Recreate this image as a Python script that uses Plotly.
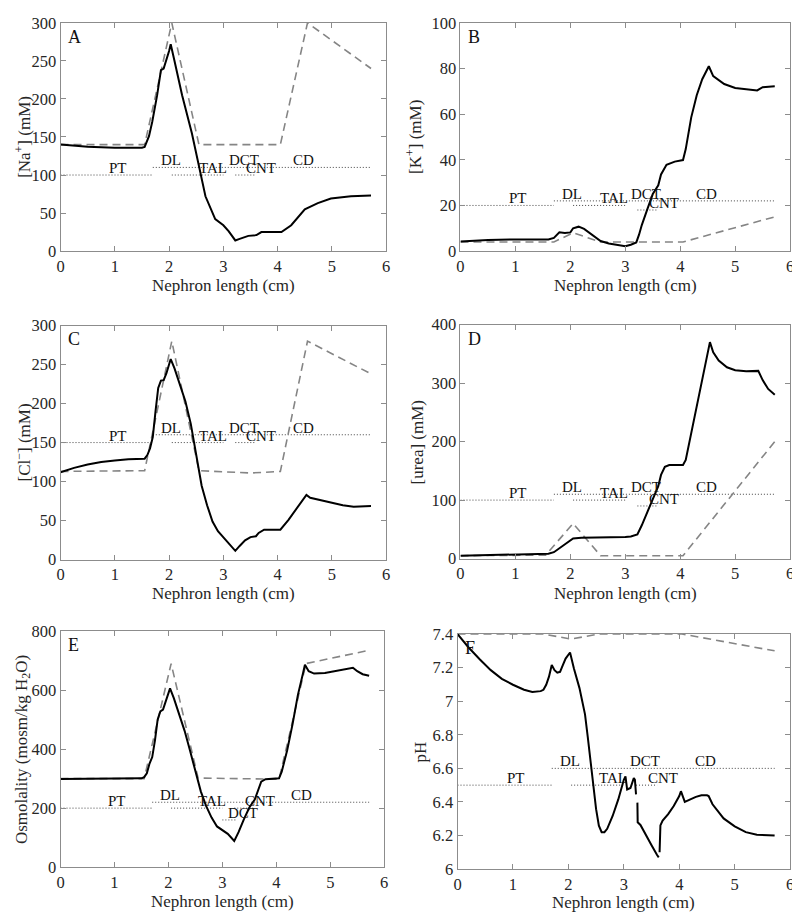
import plotly.graph_objects as go

# ---------------- data ----------------
# Panel A: [Na+]
a_x = [0, 0.5, 1.0, 1.5, 1.55, 1.63, 1.69, 1.78, 1.85, 1.9, 2.0, 2.03, 2.1, 2.24, 2.42, 2.55,
       2.67, 2.85, 3.0, 3.1, 3.22, 3.3, 3.46, 3.61, 3.7, 4.07, 4.25, 4.5, 4.74, 4.98, 5.35, 5.72]
a_y = [140, 137, 136, 136, 137, 151, 170, 205, 238, 240, 263, 272, 250, 205, 155, 113,
       72, 42, 34, 26, 14, 16, 20, 21, 25, 25, 34, 55, 63, 69, 72, 73]
a_dx = [0, 1.55, 2.05, 2.55, 4.05, 4.55, 5.72]
a_dy = [140, 140, 300, 140, 140, 300, 240]

# Panel B: [K+]
b_x = [0, 0.5, 1.0, 1.6, 1.7, 1.8, 1.9, 2.0, 2.05, 2.15, 2.25, 2.4, 2.55, 2.7, 2.9, 3.0, 3.1,
       3.2, 3.25, 3.3, 3.4, 3.5, 3.6, 3.65, 3.75, 3.9, 4.05, 4.1, 4.2, 4.3, 4.4, 4.52, 4.6,
       4.8, 5.0, 5.2, 5.4, 5.5, 5.72]
b_y = [4.2, 4.9, 5.1, 5.1, 5.8, 8.2, 7.9, 8.2, 10.0, 10.7, 9.7, 7.2, 4.4, 3.3, 2.6, 2.1, 2.8,
       3.8, 7.2, 11.4, 18.3, 25.0, 28.8, 33.6, 37.8, 39.2, 39.9, 44.7, 58.6, 68.3, 75.3, 81.0, 76.7,
       73.2, 71.5, 70.8, 70.4, 71.8, 72.2]
b_dx = [0, 1.7, 2.05, 2.55, 4.05, 5.72]
b_dy = [4, 4, 8, 4, 4, 15]

# Panel C: [Cl-]
c_x = [0, 0.25, 0.5, 0.75, 1.0, 1.25, 1.55, 1.6, 1.65, 1.7, 1.75, 1.8, 1.85, 1.9, 1.95, 2.03,
       2.1, 2.2, 2.3, 2.4, 2.5, 2.6, 2.7, 2.8, 2.9, 3.0, 3.1, 3.22, 3.3, 3.4, 3.5, 3.6, 3.65,
       3.75, 3.9, 4.05, 4.2, 4.35, 4.53, 4.6, 4.8, 5.0, 5.2, 5.4, 5.72]
c_y = [112, 117.6, 121.8, 125, 127, 128.5, 129.3, 134, 142.7, 157, 190, 220, 229.5, 230, 238.6, 257,
       245, 224, 203, 174, 132, 94.7, 69.7, 48.8, 36.3, 28.8, 21.7, 11.3, 17.5, 24.6, 28.8, 30, 34.2,
       38.4, 38.4, 38.4, 51, 65.5, 83, 79.3, 76, 72.2, 69.7, 67.6, 68.8]
c_dx = [0, 1.55, 2.05, 2.55, 3.5, 4.05, 4.55, 5.72]
c_dy = [113, 114, 280, 114, 111, 113, 280, 238]

# Panel D: [urea]
d_x = [0, 1.0, 1.6, 1.7, 1.8, 1.9, 2.0, 2.05, 2.2, 2.5, 2.8, 3.0, 3.1, 3.22, 3.3, 3.4, 3.5,
       3.6, 3.65, 3.72, 3.8, 4.05, 4.1, 4.2, 4.3, 4.4, 4.5, 4.54, 4.6, 4.7, 4.85, 5.0, 5.2,
       5.42, 5.5, 5.6, 5.72]
d_y = [5, 6.7, 8.4, 11, 17.9, 24.5, 31.8, 34.6, 35.7, 35.7, 35.7, 36.8, 38, 41.3, 57, 79, 101.5,
       123.9, 143, 157, 160, 160, 168.5, 213, 258, 302, 347, 370, 352.6, 338.6, 327, 322, 320,
       320.8, 305, 290, 280]
d_dx = [0, 1.55, 2.05, 2.55, 4.05, 5.72]
d_dy = [5, 6, 60, 5, 5, 200]

# Panel E: osmolality
e_x = [0, 1.5, 1.55, 1.6, 1.65, 1.7, 1.75, 1.8, 1.85, 1.9, 1.95, 2.03, 2.1, 2.2, 2.3, 2.4, 2.5,
       2.6, 2.7, 2.8, 2.9, 3.0, 3.1, 3.22, 3.3, 3.4, 3.5, 3.6, 3.65, 3.72, 3.8, 4.05, 4.1, 4.2,
       4.3, 4.4, 4.5, 4.53, 4.6, 4.7, 4.9, 5.1, 5.3, 5.42, 5.5, 5.6, 5.72]
e_y = [299, 301, 305, 318, 351, 373, 429, 500, 528, 534, 562, 606, 573, 517, 462, 395, 329,
       257, 207, 168, 138, 124, 113, 89, 118.6, 163, 202, 229, 257, 290, 298, 301, 323.5, 395.6,
       484, 584, 661.5, 686, 664, 656, 658, 665, 671, 676, 664, 654, 649]
e_dx = [0, 1.55, 2.05, 2.55, 4.05, 4.55, 5.72]
e_dy = [300, 300, 690, 302, 298, 690, 735]

# Panel F: pH (None = break in the curve)
f_x = [0, 0.2, 0.4, 0.6, 0.8, 1.0, 1.2, 1.35, 1.5, 1.55, 1.6, 1.65, 1.7, 1.75, 1.8, 1.85, 1.9,
       1.95, 2.03, 2.1, 2.2, 2.3, 2.35, 2.4, 2.45, 2.5, 2.55, 2.6, 2.65, 2.7, 2.8, 2.9, 3.0,
       3.03, 3.06, 3.12, 3.18, 3.2, 3.22, None,
       3.245, 3.25, 3.3, 3.4, 3.5, 3.6, 3.63, None,
       3.645, 3.66, 3.7, 3.8, 3.9, 4.0, 4.03, 4.1, 4.2, 4.3, 4.4, 4.5, 4.53, 4.6, 4.8, 5.0,
       5.2, 5.4, 5.72]
f_y = [7.40, 7.32, 7.25, 7.185, 7.133, 7.098, 7.068, 7.055, 7.06, 7.068, 7.098, 7.146, 7.215,
       7.185, 7.17, 7.175, 7.215, 7.254, 7.29, 7.195, 7.078, 6.922, 6.786, 6.63, 6.474, 6.357,
       6.259, 6.22, 6.22, 6.24, 6.318, 6.415, 6.532, 6.552, 6.474, 6.483, 6.542, 6.532, 6.445, None,
       6.396, 6.279, 6.263, 6.2, 6.142, 6.084, 6.07, None,
       6.10, 6.26, 6.289, 6.328, 6.376, 6.435, 6.464, 6.40, 6.415, 6.43, 6.44, 6.44, 6.435,
       6.386, 6.302, 6.255, 6.22, 6.205, 6.20]
f_dx = [0, 1.55, 2.05, 2.55, 4.05, 5.72]
f_dy = [7.40, 7.40, 7.37, 7.40, 7.40, 7.30]

# Nephron segment labels
seg_names = ["PT", "DL", "TAL", "DCT", "CNT", "CD"]
seg_label_x = [1.05, 2.03, 2.8, 3.38, 3.7, 4.47]
# (lower level, upper level, level of DCT label, level of CNT label) per panel
seg_levels = {
    "A": (100, 110, 110, 100),
    "B": (20, 22, 22, 18),
    "C": (150, 160, 160, 150),
    "D": (100, 110, 110, 90),
    "E": (200, 220, 160, 200),
    "F": (6.5, 6.6, 6.6, 6.5),
}

panel_letters = ["A", "B", "C", "D", "E", "F"]
y_titles = ["[Na<sup>+</sup>] (mM)", "[K<sup>+</sup>] (mM)", "[Cl<sup>−</sup>] (mM)",
            "[urea] (mM)", "Osmolality (mosm/kg H<sub>2</sub>O)", "pH"]
y_ranges = [[0, 300], [0, 100], [0, 300], [0, 400], [0, 800], [6, 7.4]]
y_dticks = [50, 20, 50, 100, 200, 0.2]
x_title = "Nephron length (cm)"

solid = [(a_x, a_y), (b_x, b_y), (c_x, c_y), (d_x, d_y), (e_x, e_y), (f_x, f_y)]
dashed = [(a_dx, a_dy), (b_dx, b_dy), (c_dx, c_dy), (d_dx, d_dy), (e_dx, e_dy), (f_dx, f_dy)]

# ---------------- layout geometry (page pixels of the target) ----------------
W, H = 800, 924
OFF = 8  # page offset of the figure (body margin)
boxes = [  # left, right, top, bottom
    (57, 386, 14, 247), (461, 794, 14, 247),
    (57, 386, 323, 562), (461, 794, 322, 561),
    (57, 384, 635, 876), (458, 794, 638, 878),
]
ytitle_x = [19, 414, 19, 418, 19, 421]
xtitle_y = [282, 282, 597, 597, 911, 912]


def px(x):
    return (x - OFF) / W


def py(y):
    return min(1.0, max(0.0, 1 - (y - OFF) / H))


FONT = "Liberation Serif"
TXT = "#262626"
fig = go.Figure()
layout = dict(width=W, height=H, margin=dict(l=0, r=0, t=0, b=0),
              paper_bgcolor="white", plot_bgcolor="white", showlegend=False,
              font=dict(family=FONT, size=16, color=TXT))
annotations = []

for i in range(6):
    letter = panel_letters[i]
    xa = "x" if i == 0 else f"x{i+1}"
    ya = "y" if i == 0 else f"y{i+1}"
    l, r, t, b = boxes[i]
    ax_common = dict(showline=True, linecolor="#8c8c8c", linewidth=1, mirror="ticks",
                     ticks="inside", ticklen=5, tickcolor="#8c8c8c", showgrid=False,
                     zeroline=False, ticklabeloverflow="allow",
                     tickfont=dict(family=FONT, size=16.5, color=TXT))
    layout["xaxis" if i == 0 else f"xaxis{i+1}"] = dict(
        ax_common, domain=[px(l), px(r)], range=[0, 6], dtick=1, anchor=ya)
    layout["yaxis" if i == 0 else f"yaxis{i+1}"] = dict(
        ax_common, domain=[py(b), py(t)], range=y_ranges[i], dtick=y_dticks[i], anchor=xa)

    # axis titles
    annotations.append(dict(x=px((l + r) / 2), y=py(xtitle_y[i]), xref="paper", yref="paper",
                            text=x_title, showarrow=False, xanchor="center", yanchor="middle",
                            font=dict(family=FONT, size=17, color=TXT)))
    annotations.append(dict(x=px(ytitle_x[i]), y=py((t + b) / 2), xref="paper", yref="paper",
                            text=y_titles[i], showarrow=False, xanchor="center", yanchor="middle",
                            textangle=-90, font=dict(family=FONT, size=17, color=TXT)))

    lo, up, dct_lv, cnt_lv = seg_levels[letter]
    # dotted segment lines
    seg_x = [0, 1.7, None, 2.05, 3.0, None, 3.22, 3.6, None, 1.7, 5.72]
    seg_y = [lo, lo, None, lo, lo, None, cnt_lv, cnt_lv, None, up, up]
    if letter == "E":
        seg_x += [None, 3.0, 3.25]
        seg_y += [None, dct_lv, dct_lv]
    fig.add_trace(go.Scatter(x=seg_x, y=seg_y, mode="lines", xaxis=xa, yaxis=ya,
                             line=dict(color="#444", width=1, dash="1px,2px"),
                             hoverinfo="skip"))
    # dashed reference curve
    dx, dy = dashed[i]
    fig.add_trace(go.Scatter(x=dx, y=dy, mode="lines", xaxis=xa, yaxis=ya,
                             line=dict(color="#858585", width=1.6, dash="8px,5px")))
    # solid model curve
    sx, sy = solid[i]
    fig.add_trace(go.Scatter(x=sx, y=sy, mode="lines", xaxis=xa, yaxis=ya,
                             connectgaps=False, line=dict(color="black", width=2)))

    levels = [lo, up, lo, dct_lv, cnt_lv, up]
    for name, lx, lv in zip(seg_names, seg_label_x, levels):
        annotations.append(dict(x=lx, y=lv, xref=xa, yref=ya, text=name, showarrow=False,
                                yanchor="bottom", xanchor="center", yshift=-3,
                                font=dict(family=FONT, size=15, color="#111")))
    annotations.append(dict(x=6 / (r - l), y=1 - 2 / (b - t), xref=f"{xa} domain",
                            yref=f"{ya} domain", text=letter, showarrow=False,
                            xanchor="left", yanchor="top",
                            font=dict(family=FONT, size=18, color="#111")))

layout["annotations"] = annotations
fig.update_layout(**layout)
fig.write_html("out.html")
